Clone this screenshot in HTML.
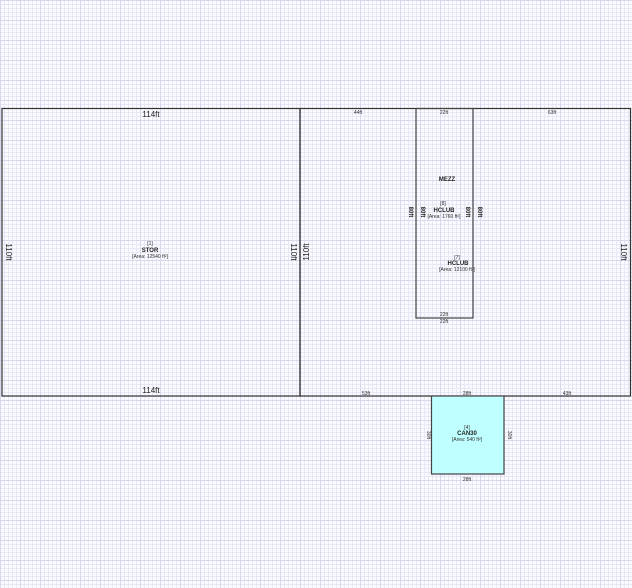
<!DOCTYPE html>
<html><head><style>
body{margin:0;width:632px;height:588px;overflow:hidden;background-color:#fbfbff;
background-image:
linear-gradient(to right,#d6d8ee 1px,transparent 1px),
linear-gradient(to bottom,#d6d8ee 1px,transparent 1px),
linear-gradient(to right,#e6e8f6 1px,transparent 1px),
linear-gradient(to bottom,#e6e8f6 1px,transparent 1px);
background-size:20px 20px,20px 20px,4px 4px,4px 4px;
font-family:"Liberation Sans",sans-serif;}
</style></head><body>
<svg width="632" height="588" style="position:absolute;left:0;top:0" font-family="Liberation Sans, sans-serif">
<rect x="2" y="108.5" width="298" height="287.5" fill="none" stroke="#333" stroke-width="1.2"/>
<rect x="300" y="108.5" width="330.5" height="287.5" fill="none" stroke="#333" stroke-width="1.2"/>
<rect x="416" y="108.5" width="57" height="209.5" fill="none" stroke="#444" stroke-width="1.2"/>
<rect x="431.5" y="396" width="72.5" height="78" fill="#bfffff" stroke="#444" stroke-width="1.2"/>
<g font-size="8" fill="#222" text-anchor="middle">
<text x="151" y="117">114ft</text>
<text x="151" y="393">114ft</text>
<text transform="translate(6,252) rotate(90)">110ft</text>
<text transform="translate(291,252) rotate(90)">110ft</text>
<text transform="translate(309,252) rotate(-90)">110ft</text>
<text transform="translate(621,252) rotate(90)">110ft</text>
</g>
<g font-size="5" fill="#333" text-anchor="middle">
<text x="358" y="114">44ft</text>
<text x="444" y="114">22ft</text>
<text x="552" y="114">63ft</text>
<text x="444" y="316">22ft</text>
<text x="444" y="323">22ft</text>
<text x="366" y="395">53ft</text>
<text x="467" y="395">28ft</text>
<text x="567" y="395">43ft</text>
<text x="467" y="481">28ft</text>
<text transform="translate(427,435) rotate(90)">30ft</text>
<text transform="translate(508,435) rotate(90)">30ft</text>
<text x="150" y="245">[1]</text>
<text x="150" y="258">[Area: 12540 ft²]</text>
<text x="443" y="205">[8]</text>
<text x="444" y="218">[Area: 1760 ft²]</text>
<text x="457" y="259">[7]</text>
<text x="457" y="271">[Area: 12100 ft²]</text>
<text x="467" y="429">[4]</text>
<text x="467" y="441">[Area: 540 ft²]</text>
</g>
<g font-size="6" fill="#222" font-weight="bold" text-anchor="middle">
<text transform="translate(409,212) rotate(90)">80ft</text>
<text transform="translate(421,212) rotate(90)">80ft</text>
<text transform="translate(466,212) rotate(90)">80ft</text>
<text transform="translate(478,212) rotate(90)">80ft</text>
<text x="150" y="252">STOR</text>
<text x="447" y="181">MEZZ</text>
<text x="444" y="212">HCLUB</text>
<text x="458" y="265">HCLUB</text>
<text x="467" y="435">CAN30</text>
</g>
</svg>
</body></html>
